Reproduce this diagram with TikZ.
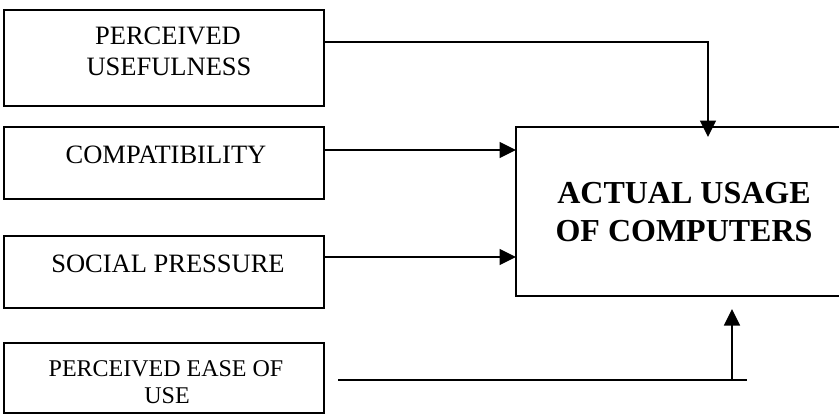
\documentclass[tikz,border=0pt]{standalone}
\usepackage{fontspec}
\setmainfont{Liberation Serif}
\usetikzlibrary{arrows.meta}
\begin{document}
\begin{tikzpicture}[x=1pt,y=-1pt,
  box/.style={draw,line width=1.6pt,inner sep=0pt,outer sep=0pt},
  lbl/.style={anchor=base,inner sep=0pt,font=\fontsize{26.5}{30}\selectfont},
  lblsm/.style={anchor=base,inner sep=0pt,font=\fontsize{24}{27}\selectfont},
  lblbig/.style={anchor=base,inner sep=0pt,font=\fontsize{32}{38}\bfseries\selectfont},
  conn/.style={line width=1.6pt,-{Triangle[length=16.5pt,width=16pt]}},
  plain/.style={line width=1.6pt}]
\useasboundingbox (0,0) rectangle (839,415);
\clip (0,0) rectangle (839,415);
\fill[white] (0,0) rectangle (839,415);
% boxes
\node[box,minimum width=320,minimum height=96] (pu) at (164,58) {};
\node[box,minimum width=320,minimum height=72] (co) at (164,163) {};
\node[box,minimum width=320,minimum height=72] (sp) at (164,272) {};
\node[box,minimum width=320,minimum height=70] (pe) at (164,378) {};
\node[box,minimum width=336,minimum height=169] (au) at (684,211.5) {};
% texts
\node[lbl] (t1a) at (168,45) {PERCEIVED};
\node[lbl] (t1b) at (169,75) {USEFULNESS};
\node[lbl] (t2) at (166,163) {COMPATIBILITY};
\node[lbl] (t3) at (168,272.5) {SOCIAL PRESSURE};
\node[lblsm] (t4a) at (166,376) {PERCEIVED EASE OF};
\node[lblsm] (t4b) at (167,403) {USE};
\node[lblbig] (t5a) at (684,203) {ACTUAL USAGE};
\node[lblbig] (t5b) at (684,241) {OF COMPUTERS};
% connectors
\draw[conn,shorten >=-10pt] (pu.east |- 0,42) -| (au.north -| 708,0);
\draw[conn] (co.east |- 0,150) -- (au.west |- 0,150);
\draw[conn] (sp.east |- 0,257) -- (au.west |- 0,257);
\coordinate (ls) at (338,380);
\coordinate (le) at (747,380);
\coordinate (lj) at (732,380);
\draw[plain] (ls) -- (le);
\draw[conn,shorten >=13pt] (lj) -- (au.south -| lj);
\end{tikzpicture}
\end{document}
